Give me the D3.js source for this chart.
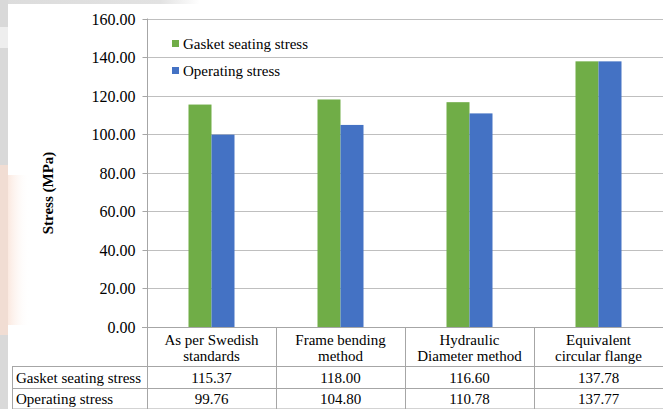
<!DOCTYPE html>
<html>
<head>
<meta charset="utf-8">
<script src="https://cdn.jsdelivr.net/npm/d3@7"></script>
<style>
  html, body { margin: 0; padding: 0; background: #ffffff; }
  svg { display: block; }
  text { font-family: "Liberation Serif", "Times New Roman", serif; fill: #000; }
</style>
</head>
<body>
<svg id="chart" width="663" height="409"></svg>
<script>
// ---- data ----
const categories = [
  ["As per Swedish", "standards"],
  ["Frame bending", "method"],
  ["Hydraulic", "Diameter method"],
  ["Equivalent", "circular flange"]
];
const seriesNames = ["Gasket seating stress", "Operating stress"];
const gasketSeating = [115.37, 118.00, 116.60, 137.78];
const operating = [99.76, 104.80, 110.78, 137.77];
const yTicks = [0, 20, 40, 60, 80, 100, 120, 140, 160];
const colors = ["#70AD47", "#4472C4"];

// ---- layout ----
const W = 663, H = 409;
const svg = d3.select("#chart");
const plotLeft = 147, plotRight = 663, plotTop = 18.5, plotBottom = 327;
const tableLeft = 12, rowCat = 366, row1 = 388, tableBottom = 408.5;

// background strips (page edge)
const defs = svg.append("defs");
const grad = defs.append("linearGradient").attr("id", "topfade").attr("x1", 0).attr("x2", 1);
grad.append("stop").attr("offset", "0%").attr("stop-color", "#dcdcdc");
grad.append("stop").attr("offset", "80%").attr("stop-color", "#e2e2e2");
grad.append("stop").attr("offset", "100%").attr("stop-color", "#ffffff");
const wm = defs.append("linearGradient").attr("id", "wmfade").attr("x1", 0).attr("x2", 1);
wm.append("stop").attr("offset", "0%").attr("stop-color", "#fbe9e0").attr("stop-opacity", 1);
wm.append("stop").attr("offset", "100%").attr("stop-color", "#ffffff").attr("stop-opacity", 0);
const bg = svg.append("g");
bg.append("rect").attr("x", 0).attr("y", 0).attr("width", 200).attr("height", 4).attr("fill", "url(#topfade)");
bg.append("rect").attr("x", 0).attr("y", 0).attr("width", 8).attr("height", H).attr("fill", "#d9d9d9");
bg.append("rect").attr("x", 0).attr("y", 27).attr("width", 8).attr("height", 21).attr("fill", "#eeeeee");
bg.append("rect").attr("x", 0).attr("y", 165).attr("width", 8).attr("height", 170).attr("fill", "#f1ddd3");
bg.append("rect").attr("x", 8).attr("y", 175).attr("width", 22).attr("height", 150).attr("fill", "url(#wmfade)");

// scales
const x0 = d3.scaleBand().domain(d3.range(categories.length)).range([plotLeft, plotRight]);
const x1 = d3.scaleBand().domain(d3.range(seriesNames.length)).range([0, 46]);
const y = d3.scaleLinear().domain([0, 160]).range([plotBottom, plotTop]);

// gridlines
svg.append("g").selectAll("line").data(yTicks.filter(d => d > 0)).join("line")
  .attr("x1", plotLeft).attr("x2", plotRight)
  .attr("y1", d => Math.round(y(d)) + 0.5).attr("y2", d => Math.round(y(d)) + 0.5)
  .attr("stroke", "#bfbfbf").attr("stroke-width", 1);

// y axis
const yAxis = d3.axisLeft(y).tickValues(yTicks).tickFormat(d3.format(".2f")).tickSize(5).tickPadding(7);
const ya = svg.append("g").attr("transform", `translate(${plotLeft + 0.5},0)`).call(yAxis);
ya.select(".domain").remove();
ya.selectAll(".tick line").attr("stroke", "#a6a6a6");
ya.selectAll(".tick").attr("transform", d => `translate(0,${Math.round(y(d)) + 0.5})`);
ya.selectAll("text").attr("font-size", 16).attr("font-family", "Liberation Serif").attr("fill", "#000");

// bars
const groups = svg.append("g").selectAll("g").data(categories.map((c, i) => i)).join("g")
  .attr("transform", i => `translate(${x0(i) + x0.bandwidth() / 2 - 23},0)`);
groups.selectAll("rect").data(i => [gasketSeating[i], operating[i]].map((v, s) => ({ v, s }))).join("rect")
  .attr("x", d => x1(d.s)).attr("width", x1.bandwidth())
  .attr("y", d => y(d.v)).attr("height", d => plotBottom - y(d.v))
  .attr("fill", d => colors[d.s]);

// axis lines
svg.append("line").attr("x1", plotLeft + 0.5).attr("x2", plotLeft + 0.5).attr("y1", plotTop).attr("y2", H)
  .attr("stroke", "#a6a6a6");
svg.append("line").attr("x1", plotLeft - 5).attr("x2", plotRight).attr("y1", plotBottom + 0.5).attr("y2", plotBottom + 0.5)
  .attr("stroke", "#a6a6a6");

// data table
const tbl = svg.append("g");
[rowCat, row1, tableBottom].forEach(yy => {
  tbl.append("line").attr("x1", tableLeft).attr("x2", plotRight).attr("y1", yy + 0.5).attr("y2", yy + 0.5)
    .attr("stroke", "#a6a6a6");
});
tbl.append("line").attr("x1", tableLeft + 0.5).attr("x2", tableLeft + 0.5).attr("y1", rowCat).attr("y2", tableBottom + 1)
  .attr("stroke", "#a6a6a6");
d3.range(1, categories.length).forEach(i => {
  const xx = Math.round(x0(i)) + 0.5;
  tbl.append("line").attr("x1", xx).attr("x2", xx).attr("y1", plotBottom).attr("y2", H).attr("stroke", "#a6a6a6");
});
// category labels
categories.forEach((c, i) => {
  const t = tbl.append("text").attr("x", x0(i) + x0.bandwidth() / 2).attr("text-anchor", "middle").attr("font-size", 15);
  t.append("tspan").attr("x", x0(i) + x0.bandwidth() / 2).attr("y", 345).text(c[0]);
  t.append("tspan").attr("x", x0(i) + x0.bandwidth() / 2).attr("y", 361).text(c[1]);
});
// row labels and values
const rows = [gasketSeating, operating];
const rowBase = [383, 404];
rows.forEach((vals, r) => {
  tbl.append("text").attr("x", tableLeft + 4).attr("y", rowBase[r]).attr("font-size", 15).text(seriesNames[r]);
  vals.forEach((v, i) => {
    tbl.append("text").attr("x", x0(i) + x0.bandwidth() / 2).attr("y", rowBase[r])
      .attr("text-anchor", "middle").attr("font-size", 15).text(d3.format(".2f")(v));
  });
});

// legend
const leg = svg.append("g");
seriesNames.forEach((n, i) => {
  const ly = 40 + i * 27;
  leg.append("rect").attr("x", 172).attr("y", ly).attr("width", 7).attr("height", 7).attr("fill", colors[i]);
  leg.append("text").attr("x", 183).attr("y", ly + 9).attr("font-size", 15).text(n);
});

// y axis title
svg.append("text").attr("transform", "translate(53,193) rotate(-90)").attr("text-anchor", "middle")
  .attr("font-size", 15).attr("font-weight", "bold").text("Stress (MPa)");
</script>
</body>
</html>
